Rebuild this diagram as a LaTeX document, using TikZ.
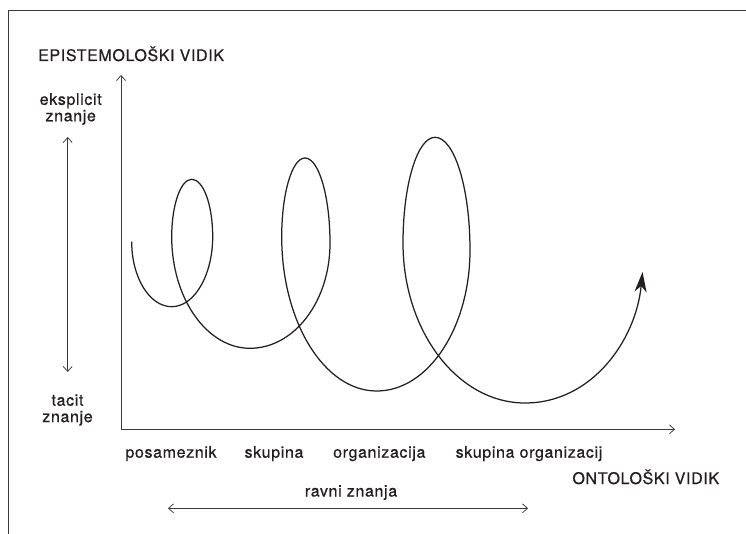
\documentclass[tikz,border=0pt]{standalone}
\usepackage{fontspec}
\setmainfont{TeX Gyre Heros}[LetterSpace=4, FakeBold=0.6]
\usetikzlibrary{arrows.meta}
\definecolor{ink}{HTML}{231F20}
\definecolor{axisgray}{HTML}{3A3A3A}
\tikzset{
  lbl/.style={font=\fontsize{16}{16.4}\selectfont, text=ink, inner sep=0pt},
  twoline/.style={lbl, align=center},
  axisline/.style={draw=axisgray, line width=0.75pt},
  thinarrows/.style={axisline, {Straight Barb[length=5pt,width=9pt]}-{Straight Barb[length=5pt,width=9pt]}},
  frameline/.style={draw=axisgray, line width=1.4pt},
  spiralline/.style={draw=ink, line width=1.25pt, -{Stealth[length=20pt,width=12pt,inset=6pt]}}
}
\begin{document}
\begin{tikzpicture}[x=1pt,y=-1pt]
\useasboundingbox (0,0) rectangle (746,534);
% frame
\draw[frameline] (8.3,534) -- (8.3,10.7) -- (746,10.7);
% titles
\node[lbl, anchor=base west] (epi) at (38,61) {EPISTEMOLOŠKI VIDIK};
\node[twoline] (ekspl) at (70.7,109) {eksplicit\\znanje};
\node[twoline] (tacit) at (67.5,410) {tacit\\znanje};
% left double arrow
\coordinate (ltop) at (67.7,137);
\coordinate (lbot) at (67.7,372);
\draw[thinarrows] (ltop) -- (lbot);
% axes
\coordinate (ytop) at (121,75);
\coordinate (orig) at (121,429.3);
\coordinate (xend) at (675,429.3);
\draw[thinarrows] (ytop) -- (orig) -- (xend);
% axis labels
\node[lbl, anchor=base] (pos) at (171,457.7) {posameznik};
\node[lbl, anchor=base] (sku) at (274,457.7) {skupina};
\node[lbl, anchor=base] (org) at (379.3,457.7) {organizacija};
\node[lbl, anchor=base] (sko) at (529,457.7) {skupina organizacij};
\node[lbl, anchor=base] (onto) at (645.8,484) {ONTOLOŠKI VIDIK};
\node[lbl, anchor=base] (ravni) at (351,496.5) {ravni znanja};
% bottom double arrow
\coordinate (bl) at (168,508.3);
\coordinate (br) at (528,508.3);
\draw[thinarrows] (bl) -- (br);
% spiral
\draw[spiralline] (131.7,241.7)
  .. controls (131.7,277.6) and (149.6,306.7) .. (171.7,306.7)
  .. controls (194.3,306.7) and (212.7,275.3) .. (212.7,236.7)
  .. controls (212.7,205) and (203.3,179.3) .. (191.7,179.3)
  .. controls (180.7,179.3) and (171.7,205) .. (171.7,236.7)
  .. controls (171.7,298.3) and (206.8,348.3) .. (250,348.3)
  .. controls (294.2,348.3) and (330,301.3) .. (330,243.3)
  .. controls (330,196.4) and (318.8,158) .. (305,158)
  .. controls (292.1,158) and (281.7,193.3) .. (281.7,236.7)
  .. controls (281.7,321.9) and (324.3,391) .. (376.7,391)
  .. controls (428.2,391) and (470,327.8) .. (470,250)
  .. controls (470,187.8) and (454.3,137.3) .. (435,137.3)
  .. controls (417.3,137.3) and (403,184.7) .. (403,243)
  .. controls (403,331.3) and (457.7,403) .. (525,403)
  .. controls (592,403) and (636,340) .. (642.5,272);
\end{tikzpicture}
\end{document}
